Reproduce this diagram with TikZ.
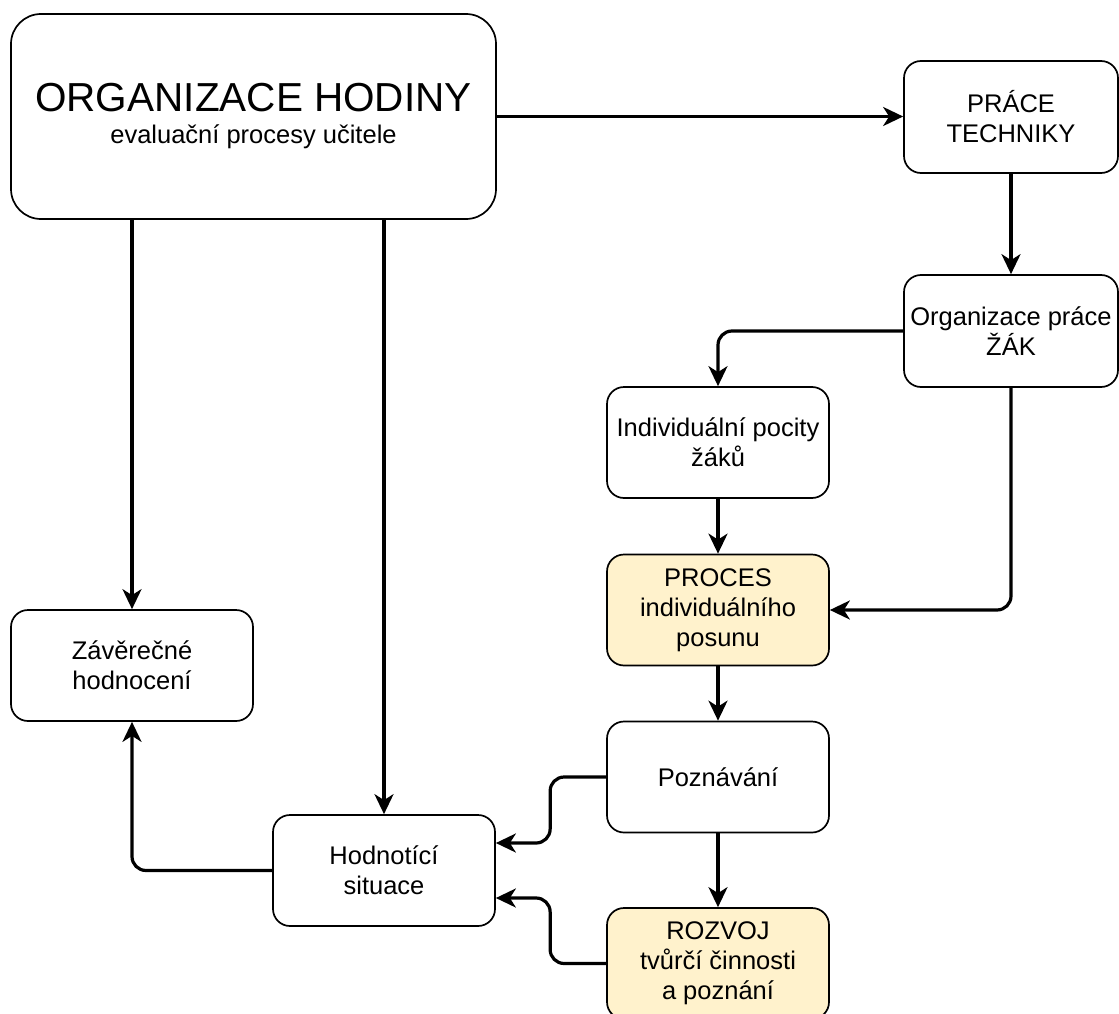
\documentclass[tikz,border=0pt]{standalone}
\usepackage{fontspec}
\setmainfont{Liberation Sans}
\usetikzlibrary{arrows.meta,calc}
\definecolor{boxyellow}{HTML}{FFF2CC}
\begin{document}
\begin{tikzpicture}[x=1pt,y=-1pt,
  box/.style={draw=black, line width=1.7pt, rounded corners=17pt, fill=white, align=center,
    font=\fontsize{25.5}{30}\selectfont, inner sep=0pt, minimum width=222pt, minimum height=111pt},
  yelbox/.style={box, fill=boxyellow},
  conn/.style={line width=3.2pt, -{Stealth[length=20pt,width=19pt,inset=6pt]}, rounded corners=14pt}
]
\useasboundingbox (0,0) rectangle (1119,1014);
\clip (0,0) rectangle (1119,1014);
\node[box, minimum width=485pt, minimum height=205pt, rounded corners=30pt] (org) at (253.5,116.5)
  {{\fontsize{40.5}{40}\selectfont ORGANIZACE HODINY}\\[2pt]evaluační procesy učitele};
\node[box, minimum width=214pt, minimum height=112pt] (prace) at (1011,117) {PRÁCE\\TECHNIKY};
\node[box, minimum width=214pt, minimum height=112pt] (orgprace) at (1011,331) {Organizace práce\\ŽÁK};
\node[box] (indiv) at (718,442.5) {Individuální pocity\\žáků};
\node[yelbox] (proces) at (718,610) {PROCES\\individuálního\\posunu};
\node[box] (pozn) at (718,777) {Poznávání};
\node[yelbox] (rozvoj) at (718,963.5) {ROZVOJ\\tvůrčí činnosti\\a poznání};
\node[box, minimum width=242pt] (zav) at (132,665.5) {Závěrečné\\hodnocení};
\node[box] (hodn) at (384,870.5) {Hodnotící\\situace};

\draw[conn] (org.east) -- (org.east -| prace.west);
\draw[conn] (prace) -- (orgprace);
\draw[conn] (orgprace.west) -| (indiv.north);
\draw[conn] (orgprace.south) |- (proces.east);
\draw[conn] (indiv) -- (proces);
\draw[conn] (proces) -- (pozn);
\draw[conn] (pozn) -- (rozvoj);
\draw[conn] (pozn.west) -- ++(-56,0) |- ([yshift=27.5pt]hodn.east);
\draw[conn] (rozvoj.west) -- ++(-56,0) |- ([yshift=-27.5pt]hodn.east);
\draw[conn] (zav.north |- org.south) -- (zav.north);
\draw[conn] (hodn.north |- org.south) -- (hodn.north);
\draw[conn] (hodn.west) -| (zav.south);
\end{tikzpicture}
\end{document}
